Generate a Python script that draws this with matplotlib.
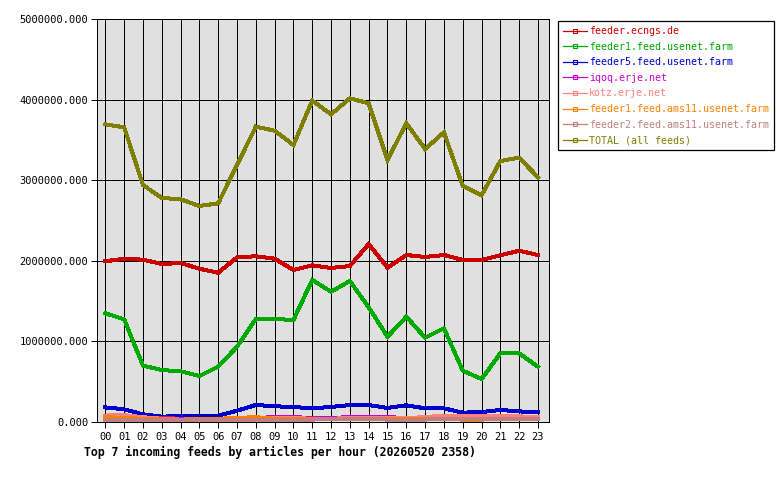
import matplotlib
matplotlib.use("Agg")
import matplotlib.pyplot as plt
from matplotlib.lines import Line2D

hours = ["00","01","02","03","04","05","06","07","08","09","10","11",
         "12","13","14","15","16","17","18","19","20","21","22","23"]

names = ["feeder.ecngs.de", "feeder1.feed.usenet.farm", "feeder5.feed.usenet.farm",
         "iqoq.erje.net", "kotz.erje.net", "feeder1.feed.ams11.usenet.farm",
         "feeder2.feed.ams11.usenet.farm", "TOTAL (all feeds)"]
colors = ["#cc0000", "#00aa00", "#0000cc", "#cc00cc", "#ff8080", "#ff8000", "#c08080", "#808000"]

ecngs = [1.994e6, 2.026e6, 2.014e6, 1.960e6, 1.973e6, 1.902e6, 1.852e6, 2.043e6, 2.056e6, 2.026e6, 1.886e6, 1.944e6,
         1.911e6, 1.935e6, 2.208e6, 1.915e6, 2.072e6, 2.047e6, 2.072e6, 2.010e6, 2.010e6, 2.068e6, 2.125e6, 2.072e6]
feeder1 = [1.349e6, 1.274e6, 0.699e6, 0.645e6, 0.629e6, 0.571e6, 0.686e6, 0.934e6, 1.278e6, 1.278e6, 1.266e6, 1.762e6,
           1.617e6, 1.749e6, 1.423e6, 1.058e6, 1.306e6, 1.046e6, 1.163e6, 0.637e6, 0.533e6, 0.852e6, 0.852e6, 0.686e6]
feeder5 = [0.182e6, 0.157e6, 0.095e6, 0.066e6, 0.074e6, 0.074e6, 0.078e6, 0.140e6, 0.211e6, 0.195e6, 0.186e6, 0.170e6,
           0.186e6, 0.211e6, 0.211e6, 0.174e6, 0.207e6, 0.170e6, 0.170e6, 0.116e6, 0.124e6, 0.149e6, 0.132e6, 0.120e6]
iqoq = [0.030e6, 0.030e6, 0.050e6, 0.050e6, 0.040e6, 0.040e6, 0.040e6, 0.040e6, 0.050e6, 0.060e6, 0.060e6, 0.050e6,
        0.050e6, 0.060e6, 0.060e6, 0.060e6, 0.050e6, 0.060e6, 0.070e6, 0.070e6, 0.070e6, 0.070e6, 0.070e6, 0.060e6]
kotz = [0.080e6, 0.085e6, 0.060e6, 0.040e6, 0.030e6, 0.030e6, 0.030e6, 0.040e6, 0.050e6, 0.050e6, 0.050e6, 0.040e6,
        0.040e6, 0.050e6, 0.050e6, 0.050e6, 0.050e6, 0.060e6, 0.080e6, 0.080e6, 0.070e6, 0.070e6, 0.070e6, 0.060e6]
ams11_1 = [0.060e6, 0.050e6, 0.040e6, 0.035e6, 0.030e6, 0.035e6, 0.040e6, 0.050e6, 0.060e6, 0.040e6, 0.040e6, 0.040e6,
           0.040e6, 0.040e6, 0.040e6, 0.035e6, 0.040e6, 0.040e6, 0.040e6, 0.030e6, 0.030e6, 0.040e6, 0.040e6, 0.040e6]
ams11_2 = [0.030e6, 0.030e6, 0.030e6, 0.030e6, 0.020e6, 0.030e6, 0.030e6, 0.030e6, 0.030e6, 0.030e6, 0.030e6, 0.030e6,
           0.040e6, 0.040e6, 0.040e6, 0.030e6, 0.030e6, 0.030e6, 0.040e6, 0.040e6, 0.040e6, 0.040e6, 0.040e6, 0.040e6]
total = [3.693e6, 3.656e6, 2.940e6, 2.780e6, 2.763e6, 2.680e6, 2.713e6, 3.190e6, 3.664e6, 3.614e6, 3.437e6, 3.987e6,
         3.817e6, 4.016e6, 3.954e6, 3.250e6, 3.706e6, 3.387e6, 3.594e6, 2.928e6, 2.813e6, 3.238e6, 3.280e6, 3.036e6]

series = [ecngs, feeder1, feeder5, iqoq, kotz, ams11_1, ams11_2, total]
yticks = [0, 1000000, 2000000, 3000000, 4000000, 5000000]
title = "Top 7 incoming feeds by articles per hour (20260520 2358)"

mono = "DejaVu Sans Mono"
W, H = 780, 480
fig = plt.figure(figsize=(7.8, 4.8), dpi=100)
fig.patch.set_facecolor("white")
ax = fig.add_axes([96.5 / W, 1 - 422 / H, (548.5 - 96.5) / W, (422 - 19) / H])
ax.set_facecolor("#e0e0e0")

x = list(range(len(hours)))
for vals, c in zip(series, colors):
    ax.plot(x, vals, color=c, lw=2.16, solid_joinstyle="miter", antialiased=False, zorder=3)

ax.set_xlim(-0.47, 23.56)
ax.set_ylim(0, 5000000)
ax.set_xticks(x)
ax.set_xticklabels(hours, fontfamily=mono, fontsize=7.5)
ax.set_yticks(yticks)
ax.set_yticklabels([f"{v:.3f}" for v in yticks], fontfamily=mono, fontsize=7.5)
ax.grid(True, color="black", lw=0.72, antialiased=False, zorder=1)
ax.set_axisbelow(True)
ax.tick_params(axis="both", direction="out", length=4, width=0.72, color="black")
ax.tick_params(axis="x", pad=3)
ax.tick_params(axis="y", pad=2)
for s in ax.spines.values():
    s.set_color("black")
    s.set_linewidth(0.72)
    s.set_antialiased(False)

fig.text(84 / W, 1 - 452 / H, title, fontfamily=mono, fontweight="bold", fontsize=8.3,
         ha="left", va="center")

handles = [Line2D([0], [0], color=c, lw=0.9, marker="s", markersize=2.5,
                  markerfacecolor="none", markeredgewidth=0.8) for c in colors]
leg = fig.legend(handles, names, loc="upper left",
                 bbox_to_anchor=(558 / W, 1 - 21 / H),
                 prop={"family": mono, "size": 7.2},
                 frameon=True, fancybox=False, edgecolor="black", framealpha=1,
                 handlelength=2.4, handletextpad=0.2, labelspacing=0.56,
                 borderpad=0.5, borderaxespad=0)
leg.get_frame().set_linewidth(0.9)
for t, c in zip(leg.get_texts(), colors):
    t.set_color(c)

fig.savefig("out.png", dpi=100, facecolor="white")
